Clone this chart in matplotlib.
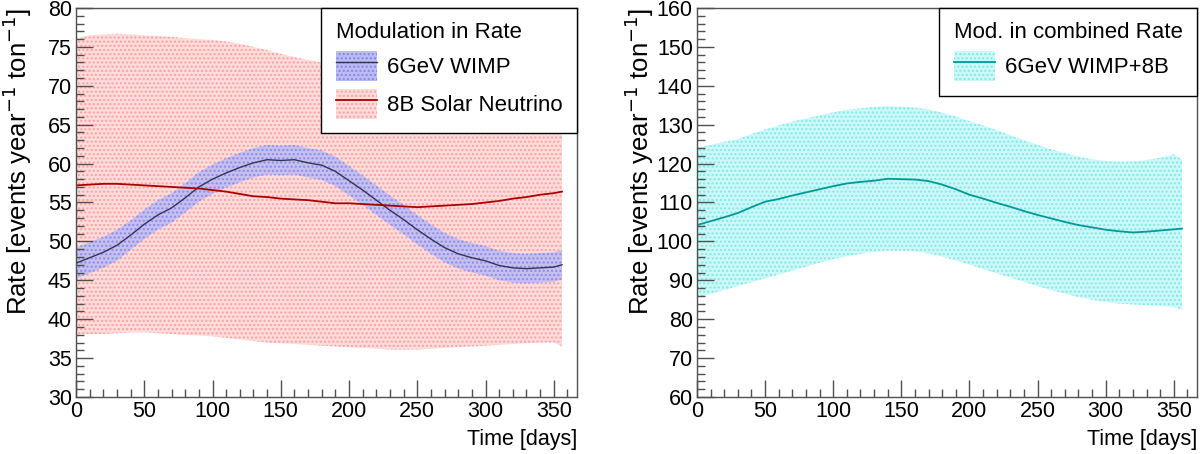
import matplotlib
matplotlib.use("Agg")
import matplotlib.pyplot as plt
from matplotlib.patches import Patch
from matplotlib.lines import Line2D
from matplotlib.ticker import MultipleLocator

plt.rcParams['font.family'] = ['Liberation Sans', 'DejaVu Sans']
plt.rcParams['hatch.linewidth'] = 1.0

days = [0, 10, 20, 30, 40, 50, 60, 70, 80, 90, 100, 110, 120, 130, 140, 150, 160, 170,
        180, 190, 200, 210, 220, 230, 240, 250, 260, 270, 280, 290, 300, 310, 320, 330,
        340, 350, 356]

# 6 GeV WIMP rate and its band half-width
wimp = [47.2, 47.9, 48.6, 49.5, 50.8, 52.2, 53.4, 54.3, 55.6, 57.0, 58.0, 58.8, 59.5,
        60.1, 60.5, 60.4, 60.5, 60.1, 59.8, 59.0, 57.8, 56.6, 55.3, 54.0, 52.8, 51.5,
        50.3, 49.2, 48.4, 47.9, 47.5, 46.9, 46.6, 46.5, 46.6, 46.7, 47.0]
wimp_err = [2.0, 2.0, 2.0, 2.0, 1.9, 1.9, 1.9, 1.9, 1.9, 1.9, 1.9, 1.9, 1.9, 1.9, 1.9,
            1.9, 1.9, 1.9, 1.9, 1.9, 1.9, 1.9, 1.9, 1.9, 1.9, 1.9, 1.9, 1.9, 1.9, 1.9,
            1.9, 1.9, 1.9, 1.9, 1.9, 1.9, 1.9]

# 8B solar neutrino rate with band
nu = [57.2, 57.3, 57.4, 57.4, 57.3, 57.2, 57.1, 57.0, 56.9, 56.8, 56.6, 56.4, 56.1,
      55.8, 55.7, 55.5, 55.4, 55.3, 55.1, 54.9, 54.9, 54.8, 54.7, 54.6, 54.5, 54.4,
      54.5, 54.6, 54.7, 54.8, 55.0, 55.2, 55.5, 55.7, 56.0, 56.2, 56.4]
nu_up = [76.0, 76.5, 76.6, 76.7, 76.6, 76.5, 76.4, 76.3, 76.1, 76.0, 75.9, 75.7, 75.4,
         75.0, 74.6, 74.1, 73.7, 73.3, 73.0, 72.8, 72.7, 72.7, 72.8, 73.0, 73.2, 73.4,
         73.6, 73.8, 74.0, 74.2, 74.4, 74.6, 74.8, 75.0, 75.2, 75.4, 75.5]
nu_lo = [38.0, 38.1, 38.1, 38.2, 38.3, 38.3, 38.2, 38.1, 38.0, 37.9, 37.8, 37.6, 37.4,
         37.2, 37.0, 36.9, 36.8, 36.7, 36.6, 36.5, 36.4, 36.3, 36.2, 36.1, 36.1, 36.1,
         36.2, 36.3, 36.4, 36.5, 36.6, 36.7, 36.8, 36.9, 37.0, 37.0, 36.5]

# combined WIMP + 8B
comb = [104.2, 105.2, 106.2, 107.3, 108.8, 110.2, 110.9, 111.8, 112.6, 113.4, 114.2,
        114.9, 115.3, 115.6, 116.1, 116.0, 115.9, 115.5, 114.6, 113.4, 112.0, 111.0,
        109.9, 108.9, 107.8, 106.8, 105.9, 105.0, 104.2, 103.6, 103.0, 102.6, 102.3,
        102.5, 102.8, 103.1, 103.3]
comb_up = [124.0, 124.8, 125.6, 126.3, 127.6, 128.8, 129.8, 130.8, 131.6, 132.4, 133.2,
           133.8, 134.2, 134.6, 134.8, 134.7, 134.4, 133.9, 133.1, 132.1, 130.9, 129.8,
           128.6, 127.3, 126.0, 124.8, 123.7, 122.7, 121.8, 121.1, 120.7, 120.5, 120.6,
           120.9, 121.5, 122.4, 121.0]
comb_lo = [85.5, 86.5, 87.5, 88.5, 89.5, 90.5, 91.5, 92.5, 93.5, 94.5, 95.4, 96.2, 96.8,
           97.3, 97.6, 97.6, 97.4, 96.9, 96.1, 95.1, 94.0, 92.9, 91.8, 90.7, 89.6, 88.5,
           87.5, 86.6, 85.7, 85.0, 84.4, 84.0, 83.8, 83.6, 83.4, 83.1, 82.5]

wimp_lo = [c - e for c, e in zip(wimp, wimp_err)]
wimp_up = [c + e for c, e in zip(wimp, wimp_err)]

TICK_FS = 15.5
XLAB_FS = 15.5
YLAB_FS = 18.5
LEG_FS = 16
AX_COL = '#505050'

RED_FACE, RED_HATCH = '#ffdcdc', '#ff9e9e'
BLUE_FACE, BLUE_HATCH = '#bcbcf4', '#8484ec'
CYAN_FACE, CYAN_HATCH = '#ccf8f8', '#80e8e8'
HATCH = '....'

fig = plt.figure(figsize=(12.04, 4.54), dpi=100)
ax1 = fig.add_axes([76 / 1204, 1 - 397 / 454, 501 / 1204, 389 / 454])
ax2 = fig.add_axes([697 / 1204, 1 - 397 / 454, 500 / 1204, 389 / 454])


def style(ax, ymin, ymax, ymaj, ymin_step):
    ax.set_xlim(0, 367)
    ax.set_ylim(ymin, ymax)
    ax.xaxis.set_major_locator(MultipleLocator(50))
    ax.xaxis.set_minor_locator(MultipleLocator(10))
    ax.yaxis.set_major_locator(MultipleLocator(ymaj))
    ax.yaxis.set_minor_locator(MultipleLocator(ymin_step))
    ax.tick_params(which='both', direction='in', top=False, right=False,
                   color=AX_COL, labelsize=TICK_FS, width=1)
    ax.tick_params(which='major', length=12, pad=3)
    ax.tick_params(which='minor', length=6)
    for s in ax.spines.values():
        s.set_color(AX_COL)
        s.set_linewidth(1)
    ax.set_xlabel('Time [days]', fontsize=XLAB_FS, loc='right', labelpad=5)
    ax.set_ylabel('Rate [events year$^{-1}$ ton$^{-1}$]', fontsize=YLAB_FS, loc='top')
    ax.yaxis.set_label_coords(-0.083, 1.0)


def legend(ax, handles, labels, title):
    leg = ax.legend(handles, labels, title=title, title_fontsize=LEG_FS,
                    fontsize=LEG_FS, loc='upper right', bbox_to_anchor=(1.0, 1.0),
                    borderaxespad=0, fancybox=False, framealpha=1,
                    edgecolor='black', alignment='left', handlelength=1.85,
                    handleheight=1.7, labelspacing=0.35, borderpad=0.65,
                    handletextpad=0.45)
    leg.get_frame().set_linewidth(1)
    return leg


# left panel
ax1.fill_between(days, nu_lo, nu_up, facecolor=RED_FACE, edgecolor=RED_HATCH,
                 hatch=HATCH, linewidth=0)
ax1.fill_between(days, wimp_lo, wimp_up, facecolor=BLUE_FACE, edgecolor=BLUE_HATCH,
                 hatch=HATCH, linewidth=0, alpha=0.85)
ax1.plot(days, wimp, color='#333355', lw=1)
ax1.plot(days, nu, color='#aa0000', lw=1.3)
style(ax1, 30, 80, 5, 1)

h_wimp = (Patch(facecolor=BLUE_FACE, edgecolor=BLUE_HATCH, hatch=HATCH, lw=0),
          Line2D([], [], color='#333355', lw=1))
h_nu = (Patch(facecolor=RED_FACE, edgecolor=RED_HATCH, hatch=HATCH, lw=0),
        Line2D([], [], color='#aa0000', lw=1.3))
legend(ax1, [h_wimp, h_nu], ['6GeV WIMP', '8B Solar Neutrino'], 'Modulation in Rate')

# right panel
ax2.fill_between(days, comb_lo, comb_up, facecolor=CYAN_FACE, edgecolor=CYAN_HATCH,
                 hatch=HATCH, linewidth=0)
ax2.plot(days, comb, color='#009999', lw=1.3)
style(ax2, 60, 160, 10, 2)

h_comb = (Patch(facecolor=CYAN_FACE, edgecolor=CYAN_HATCH, hatch=HATCH, lw=0),
          Line2D([], [], color='#009999', lw=1.3))
legend(ax2, [h_comb], ['6GeV WIMP+8B'], 'Mod. in combined Rate')

fig.savefig('out.png', dpi=100)
